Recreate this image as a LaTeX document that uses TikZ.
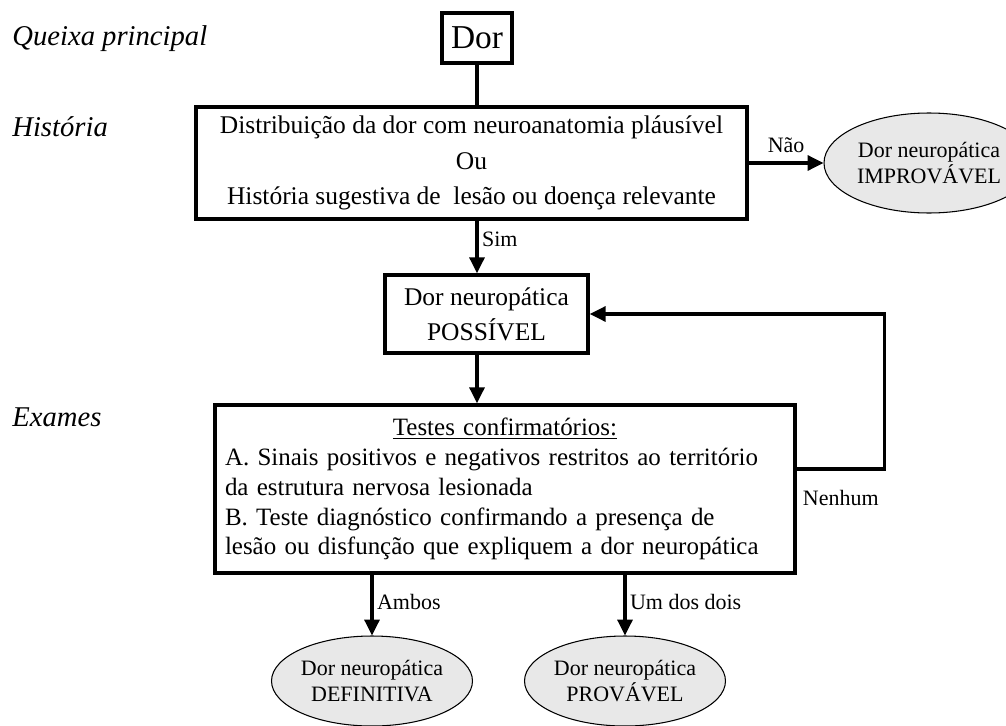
\documentclass[tikz,border=0pt]{standalone}
\usepackage{fontspec}
\setmainfont{Liberation Serif}
\usetikzlibrary{arrows.meta,calc,positioning,shapes.geometric}

\begin{document}
\begin{tikzpicture}[line join=miter,
    box/.style={draw, line width=2pt, align=center, inner sep=0pt,
        font=\fontsize{14.5}{20}\selectfont},
    oval/.style={ellipse, draw, line width=0.6pt, fill=gray!18, align=center,
        inner sep=0pt, minimum width=3.9cm, minimum height=1.8cm,
        font=\fontsize{12.5}{15}\selectfont},
    side/.style={anchor=west, inner sep=0pt, font=\fontsize{16.3}{20}\selectfont\itshape},
    lbl/.style={inner sep=2pt, font=\fontsize{12.5}{15}\selectfont},
    conn/.style={line width=1.8pt, -{Triangle[length=9pt,width=8.5pt]}}]
    \useasboundingbox (0,0) rectangle (20.12,-14.52);

    % stage names on the left
    \node[side] (queixa)   at (0.24,-0.78) {Queixa principal};
    \node[side] (historia) at (0.24,-2.54) {História};
    \node[side] (exames)   at (0.24,-8.34) {Exames};

    % boxes
    \node[box, minimum width=1.4cm, minimum height=1cm, font=\fontsize{19}{22}\selectfont]
        (dor) at (9.54,-0.76) {Dor};
    \node[box, minimum width=11.02cm, minimum height=2.24cm] (hist) at (9.43,-3.26)
        {Distribuição da dor com neuroanatomia pláusível\\ Ou\\
         História sugestiva de\ \ lesão ou doença relevante};
    \node[box, minimum width=4.06cm, minimum height=1.56cm] (poss) at (9.73,-6.28)
        {Dor neuropática\\ POSSÍVEL};
    \node[box, align=left, text width=11.2cm, inner xsep=0.2cm, minimum height=3.36cm,
        font=\fontsize{14.2}{17}\selectfont] (tests) at (10.1,-9.78)
        {\makebox[\linewidth][c]{\underline{Testes confirmatórios:}}\\
         A. Sinais positivos e negativos restritos ao território\\
         da estrutura nervosa lesionada\\
         B. Teste diagnóstico confirmando a presença de\\
         lesão ou disfunção que expliquem a dor neuropática};

    % outcomes
    \node[oval, minimum width=4.2cm, minimum height=2cm] (improv) at (18.58,-3.26)
        {Dor neuropática\\ IMPROVÁVEL};
    \node[oval] (defin) at (7.44,-13.62) {Dor neuropática\\ DEFINITIVA};
    \node[oval] (prov)  at (12.5,-13.62) {Dor neuropática\\ PROVÁVEL};

    % connectors
    \draw[line width=1.8pt] (dor.south) -- (dor.south |- hist.north);
    \draw[conn] (hist.east) -- node[lbl, above=3pt] (nao) {Não} (improv.west);
    \draw[conn] (hist.south -| dor.south) -- node[lbl, right, pos=0.35] (sim) {Sim}
        (poss.north -| dor.south);
    \draw[conn] (poss.south -| dor.south) -- (tests.north -| dor.south);
    \draw[conn] ([yshift=4mm]tests.east) -- node[lbl, below=9pt] (nenhum) {Nenhum}
        ++(1.76,0) coordinate (turn) |- (poss.east);
    \draw[conn] (defin.north |- tests.south) -- node[lbl, right, pos=0.45] (ambos) {Ambos}
        (defin.north);
    \draw[conn] (prov.north |- tests.south) -- node[lbl, right, pos=0.45] (umdois) {Um dos dois}
        (prov.north);
\end{tikzpicture}
\end{document}
